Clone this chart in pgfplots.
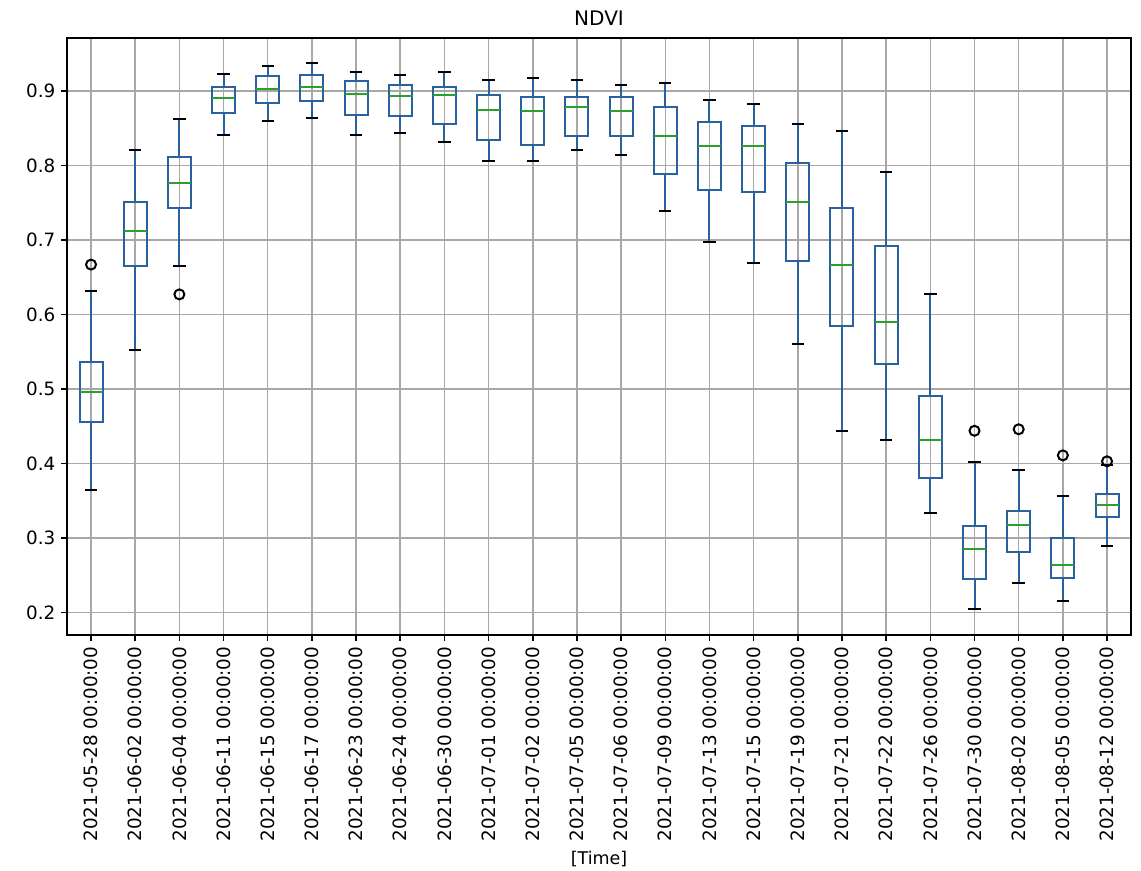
\documentclass[border=0pt]{standalone}
\usepackage{fontspec}
\setmainfont{DejaVu Sans}
\usepackage{pgfplots}
\pgfplotsset{compat=1.18}
\usepgfplotslibrary{statistics}
\definecolor{boxblue}{HTML}{2A62A0}
\definecolor{medgreen}{HTML}{2CA02C}
\definecolor{gridgray}{HTML}{A8A8A8}

\pgfplotsset{
  bx/.style n args={6}{
    boxplot prepared={draw position=#1, lower whisker=#2, lower quartile=#3,
      median=#4, upper quartile=#5, upper whisker=#6,
      box extend=0.52, whisker extend=0.28},
    draw=boxblue, line width=1.2pt, mark=o, mark size=3pt,
    mark options={draw=black, line width=1.2pt, fill=none}
  }
}

\begin{document}
\begin{tikzpicture}
\useasboundingbox (-40.2pt,-141.5pt) rectangle (643.9pt,380.7pt);
\begin{axis}[
  at={(0,0)}, anchor=south west,
  scale only axis, width=637.9pt, height=357.9pt,
  xmin=0.457, xmax=24.543, ymin=0.170, ymax=0.971,
  boxplot/draw direction=y,
  xtick={1,...,24},
  xticklabels={2021-05-28 00:00:00,2021-06-02 00:00:00,2021-06-04 00:00:00,2021-06-11 00:00:00,2021-06-15 00:00:00,2021-06-17 00:00:00,2021-06-23 00:00:00,2021-06-24 00:00:00,2021-06-30 00:00:00,2021-07-01 00:00:00,2021-07-02 00:00:00,2021-07-05 00:00:00,2021-07-06 00:00:00,2021-07-09 00:00:00,2021-07-13 00:00:00,2021-07-15 00:00:00,2021-07-19 00:00:00,2021-07-21 00:00:00,2021-07-22 00:00:00,2021-07-26 00:00:00,2021-07-30 00:00:00,2021-08-02 00:00:00,2021-08-05 00:00:00,2021-08-12 00:00:00},
  xticklabel style={rotate=90, anchor=east, font=\fontsize{11}{13}\selectfont},
  ytick={0.2,0.3,0.4,0.5,0.6,0.7,0.8,0.9},
  yticklabel style={font=\fontsize{11}{13}\selectfont, /pgf/number format/fixed, /pgf/number format/precision=1},
  /pgf/number format/assume math mode=true,
  tick align=outside, major tick length=3.5pt,
  tick style={black, line width=0.9pt},
  xtick pos=bottom, ytick pos=left,
  grid=major, major grid style={gridgray, line width=0.9pt},
  axis line style={black, line width=1pt},
  title={NDVI}, title style={font=\fontsize{12}{14}\selectfont, yshift=-2pt},
  xlabel={[Time]}, xlabel style={font=\fontsize{10.5}{12}\selectfont, yshift=1pt},
  boxplot/every box/.style={draw=boxblue, line width=1.2pt},
  boxplot/every median/.style={draw=medgreen, line width=1.2pt},
  boxplot/draw/lower whisker/.code={%
    \draw[boxblue, line width=1.2pt] (boxplot cs:\pgfplotsboxplotvalue{lower whisker}) -- (boxplot cs:\pgfplotsboxplotvalue{lower quartile});
    \draw[black, line width=1.2pt] (boxplot whisker cs:\pgfplotsboxplotvalue{lower whisker},0) -- (boxplot whisker cs:\pgfplotsboxplotvalue{lower whisker},1);
  },
  boxplot/draw/upper whisker/.code={%
    \draw[boxblue, line width=1.2pt] (boxplot cs:\pgfplotsboxplotvalue{upper whisker}) -- (boxplot cs:\pgfplotsboxplotvalue{upper quartile});
    \draw[black, line width=1.2pt] (boxplot whisker cs:\pgfplotsboxplotvalue{upper whisker},0) -- (boxplot whisker cs:\pgfplotsboxplotvalue{upper whisker},1);
  },
]
\addplot[bx={1}{0.364}{0.456}{0.496}{0.536}{0.631}] coordinates {(1,0.667)};
\addplot[bx={2}{0.552}{0.665}{0.712}{0.751}{0.821}] coordinates {};
\addplot[bx={3}{0.665}{0.743}{0.776}{0.812}{0.862}] coordinates {(3,0.627)};
\addplot[bx={4}{0.841}{0.870}{0.891}{0.905}{0.923}] coordinates {};
\addplot[bx={5}{0.859}{0.884}{0.902}{0.920}{0.933}] coordinates {};
\addplot[bx={6}{0.864}{0.887}{0.905}{0.922}{0.938}] coordinates {};
\addplot[bx={7}{0.841}{0.868}{0.896}{0.913}{0.925}] coordinates {};
\addplot[bx={8}{0.843}{0.866}{0.893}{0.908}{0.922}] coordinates {};
\addplot[bx={9}{0.831}{0.855}{0.894}{0.905}{0.925}] coordinates {};
\addplot[bx={10}{0.806}{0.834}{0.875}{0.895}{0.915}] coordinates {};
\addplot[bx={11}{0.806}{0.828}{0.873}{0.892}{0.917}] coordinates {};
\addplot[bx={12}{0.821}{0.839}{0.878}{0.892}{0.915}] coordinates {};
\addplot[bx={13}{0.814}{0.839}{0.873}{0.892}{0.908}] coordinates {};
\addplot[bx={14}{0.739}{0.789}{0.839}{0.878}{0.911}] coordinates {};
\addplot[bx={15}{0.697}{0.767}{0.826}{0.858}{0.888}] coordinates {};
\addplot[bx={16}{0.669}{0.764}{0.826}{0.853}{0.883}] coordinates {};
\addplot[bx={17}{0.561}{0.672}{0.751}{0.803}{0.856}] coordinates {};
\addplot[bx={18}{0.444}{0.585}{0.667}{0.743}{0.846}] coordinates {};
\addplot[bx={19}{0.431}{0.533}{0.590}{0.692}{0.791}] coordinates {};
\addplot[bx={20}{0.334}{0.381}{0.431}{0.491}{0.627}] coordinates {};
\addplot[bx={21}{0.205}{0.245}{0.285}{0.316}{0.402}] coordinates {(21,0.444)};
\addplot[bx={22}{0.240}{0.282}{0.317}{0.336}{0.391}] coordinates {(22,0.446)};
\addplot[bx={23}{0.215}{0.247}{0.264}{0.300}{0.356}] coordinates {(23,0.411)};
\addplot[bx={24}{0.289}{0.328}{0.344}{0.359}{0.398}] coordinates {(24,0.403)};
\end{axis}
\end{tikzpicture}
\end{document}
